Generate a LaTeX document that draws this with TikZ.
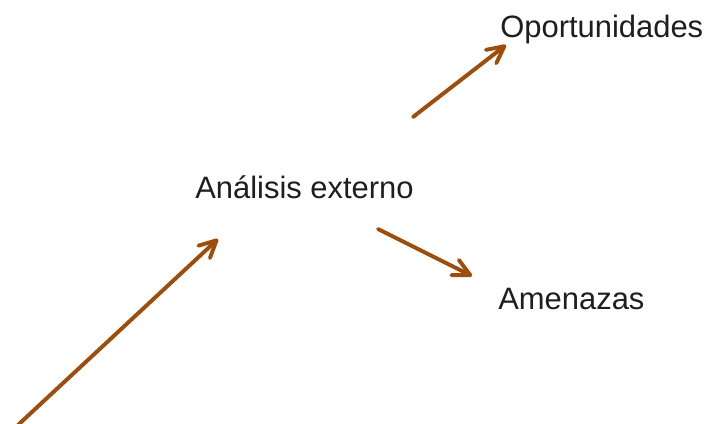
\documentclass[tikz,border=0pt]{standalone}
\usepackage{fontspec}
\setmainfont{Liberation Sans}
\usetikzlibrary{arrows.meta}
\definecolor{flecha}{RGB}{158,78,12}
\definecolor{texto}{RGB}{30,30,30}
\tikzset{
  etiqueta/.style={anchor=base west,inner sep=0pt,text=texto,font=\fontsize{22}{26}\selectfont},
  flechita/.style={draw=flecha,line width=2.8pt,line cap=round,
    -{Straight Barb[length=12pt,width=12pt,round]}}
}
\begin{document}
\begin{tikzpicture}[x=0.025cm,y=-0.025cm]
      \useasboundingbox[fill=white] (0,0) rectangle (707,423);

      \node[etiqueta] (externo) at (195,198) {Análisis externo};
      \node[etiqueta] (oportunidades) at (500,37) {Oportunidades};
      \node[etiqueta] (amenazas) at (498,309) {Amenazas};

      \coordinate (inicio) at (18,425);
      \coordinate (llegada) at (218,239);
      \coordinate (salidaA) at (413,117);
      \coordinate (puntaA) at (506,45);
      \coordinate (salidaB) at (378,229);
      \coordinate (puntaB) at (472,276);

      \draw[flechita] (inicio) -- (llegada);
      \draw[flechita] (salidaA) -- (puntaA);
      \draw[flechita] (salidaB) -- (puntaB);
    \end{tikzpicture}
\end{document}
